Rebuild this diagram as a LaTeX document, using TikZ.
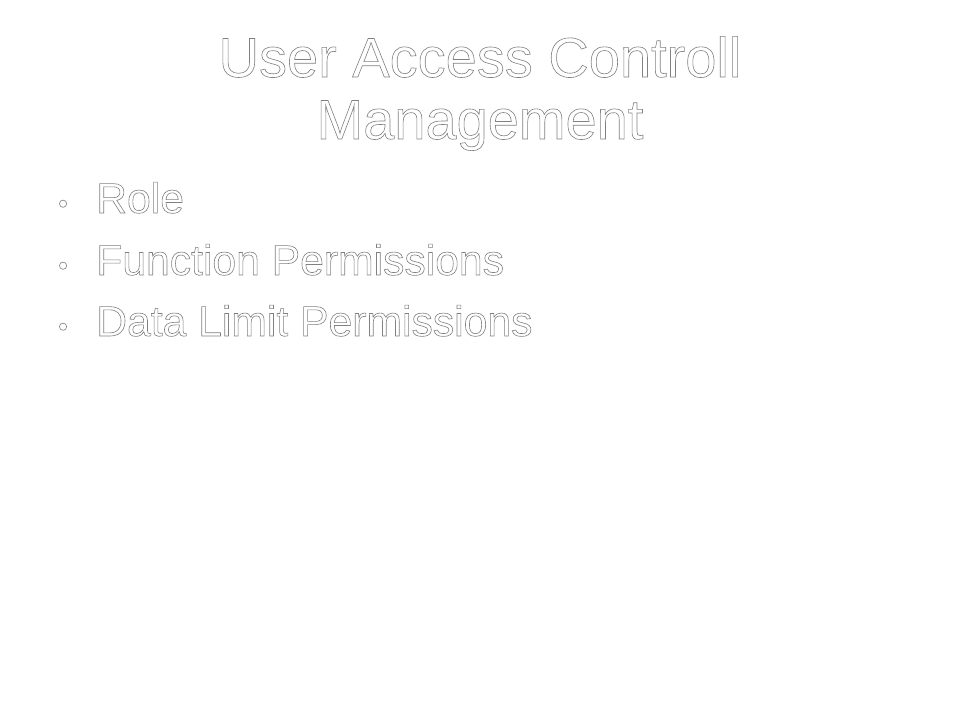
\documentclass[tikz,border=0pt]{standalone}
\usepackage{fontspec}
\setmainfont{Liberation Sans}
\usetikzlibrary{positioning}
% white letters with a thin grey outline
\newcommand{\hollow}[1]{\special{pdf:code 2 Tr 0.45 w 0.5 G}#1\special{pdf:code 0 Tr}}
\tikzset{
  x=0.75pt, y=-0.75pt,
  every node/.style={inner sep=0pt, text=white},
  heading/.style={align=center, font=\fontsize{42}{46.5}\selectfont},
  item/.style={anchor=base west, font=\fontsize{32}{38}\selectfont},
  dot/.style={anchor=base east, font=\fontsize{20}{24}\selectfont},
}

\begin{document}
\begin{tikzpicture}
        \useasboundingbox[fill=white] (0,0) rectangle (960,720);
        % title
        \node[heading, anchor=base] (title) at (480,139)
              {\hollow{User Access Controll}\\\hollow{Management}};
        
        % bullet list
        \node[item] (role) at (96,213) {\hollow{Role}};
        \node[item] (func) at (96,275) {\hollow{Function Permissions}};
        \node[item] (data) at (96,336) {\hollow{Data Limit Permissions}};
        \node[dot, left=21pt of role.base west, yshift=5pt] (b1) {\hollow{•}};
        \node[dot, left=21pt of func.base west, yshift=5pt] (b2) {\hollow{•}};
        \node[dot, left=21pt of data.base west, yshift=5pt] (b3) {\hollow{•}};
      \end{tikzpicture}
\end{document}
